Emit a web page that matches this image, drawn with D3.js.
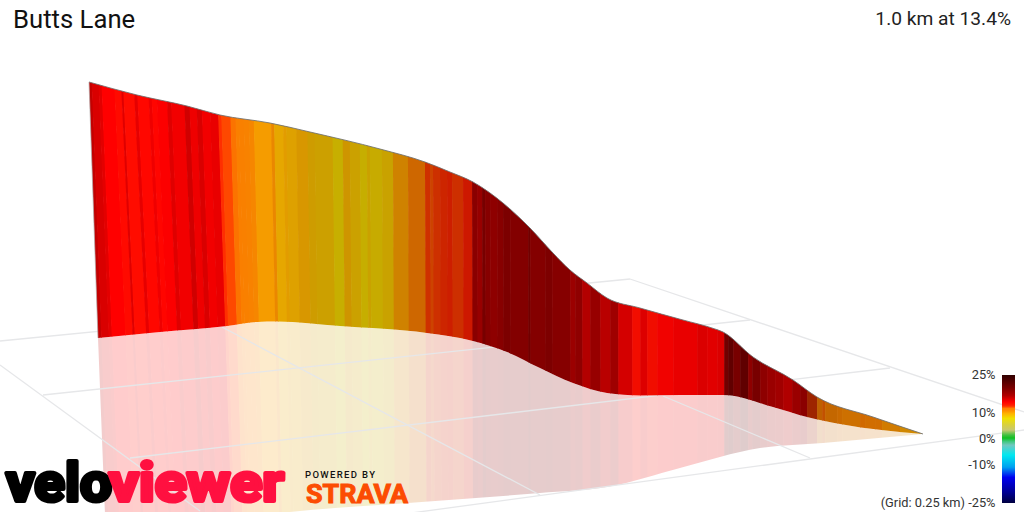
<!DOCTYPE html>
<html>
<head>
<meta charset="utf-8">
<title>Butts Lane</title>
<script src="https://cdn.jsdelivr.net/npm/d3@7"></script>
<style>
html,body{margin:0;padding:0;background:#fff;overflow:hidden}
svg{display:block}
text{font-family:Roboto,sans-serif}
</style>
</head>
<body>
<svg id="c" width="1024" height="512"></svg>
<script>
// Profile as projected on the picture: metres along the view, projected height
const topM    = [0,48,98,131,181,221,291,336,361,384,414,441,464,481,498,518,551,594,623,634,664,704,728,784,834];
const topH    = [430,417,406,397,389,380,363,350,340,330,309,284,259,242,229,214,204,192,184,180,155,132,115,95,78];
const baseM   = [9,71,138,168,188,251,338,384,418,451,484,518,551,591,634,684,718,751,834];
const baseH   = [174,180,186,190,190.5,186,179,171,160,144,129,119,116.5,117,117,105,95,88,78];
const mirrorM = [17,201,319,451,518,591,671,734,834];
const mirrorH = [-28,0,9,19,25,44,64,69,78];

// Gradient strips: where each starts, and its gradient in %
const stripStart = [-5,6,13,16,29,36,38,49,52,63,66,71,81,85,98,103,110,115,123,131,134,143,148,151,156,161,166,183,186,195,198,208,219,226,244,254,261,271,278,281,293,304,319,336,341,344,351,358,363,374,383,388,393,396,401,408,414,421,439,441,456,463,481,486,493,501,511,521,529,543,551,558,568,584,608,618,628,635,639,644,651,659,663,671,678,686,694,703,711,718,728,733,736,748,753,771,776,786,793,811];
const stripGrade = [16.4,15.7,15.4,14.5,14.1,15.5,14.0,15.3,14.2,15.0,14.3,14.6,15.5,14.9,16.0,15.0,15.7,14.9,15.2,12.9,12.5,12.1,11.9,11.8,11.6,11.3,10.4,10.9,9.7,10,9.7,9.9,9.4,9.2,8.4,9.7,9.1,8.4,9.1,8.6,9.0,10.5,12.0,12.7,12.4,12.7,12.9,13.1,12.7,13.3,17.2,16.6,18.5,17.5,17.0,17.5,18.3,17.9,19.3,17.9,18.5,17.9,16.8,17.6,16.2,17.6,16.4,17.5,15.5,13.9,15.2,13.9,14.4,14.75,15.2,15.0,15.2,20,21,19.4,21,18,19.4,18,17.3,16.9,16.4,17.3,18.2,12.7,12,12.2,11.6,11.7,11.3,12,11.7,11.7,10.8,10.3];
const stripEnd = 840;

// Ground grid lines, each from one end to the other
const gridM1 = [-89,541,-46,41,241,-89,133,574];
const gridH1 = [171,233,117,54,-12,147,185,116];
const gridM2 = [541,935,661,801,935,111,451,721];
const gridH2 = [233,100,192,144,82,1,17,54];

// Legend
const legendTicks = [25,10,0,-10,-25];
const legendLabels = ["25%","10%","0%","-10%","(Grid: 0.25 km) -25%"];
const rampGrades = [25,20,17,14.5,13.5,13,12.5,12,11,10,9,8,5.5,3.5,1.5,0.4,-1,-2.4,-6.3,-11,-15,-21,-25];
const rampColors = ["#300000","#7a0000","#b00000","#ff0000","#ff1800","#ff2800","#ff4800","#ff8000","#ff9000","#ffb000","#f8c800","#f0e000","#d8d040","#c8c870","#40c040","#10c020","#40c880","#70c8c0","#00e8f0","#00a0f0","#0000f0","#000090","#000040"];

// Texts
const titleText = "Butts Lane";
const summaryText = "1.0 km at 13.4%";
const logoParts = ["velo","viewer"];
const poweredText = "POWERED BY";
const stravaText = "STRAVA";

const svg = d3.select("#c");
const x = d3.scaleLinear().domain([0,835]).range([89,924]);
const y = d3.scaleLinear().domain([0,512]).range([512,0]);
const color = d3.scaleLinear().domain(rampGrades).range(rampColors).interpolate(d3.interpolateRgb);
// Lighting of the wall along the view
const shade = d3.scaleLinear()
  .domain([0,130,166,190,219,391,481,511,631,641,711,718,728,760,835])
  .range([1,1,.96,.9,.82,.8,.85,.95,.94,.9,.9,.62,.75,.82,.82]).clamp(true);
// Perspective lean of the strips
const lean = d3.scaleLinear().domain([0,50,131,186,300,420,835]).range([.036,.05,.033,.02,.005,.002,0]).clamp(true);

const pts = (a,b)=>a.map((m,i)=>[m,b[i]]);
const smooth = d3.line().x(d=>x(d[0])).y(d=>y(d[1])).curve(d3.curveMonotoneX);
const straight = d3.line().x(d=>x(d[0])).y(d=>y(d[1]));
const band = (upper,lower)=>smooth(upper)+"L"+smooth(lower.slice().reverse()).slice(1)+"Z";
const topLine = pts(topM,topH), baseLine = pts(baseM,baseH), mirrorLine = pts(mirrorM,mirrorH);

const defs = svg.append("defs");
defs.append("clipPath").attr("id","wallClip").append("path").attr("d",band(topLine,baseLine));
defs.append("clipPath").attr("id","mirrorClip").append("path").attr("d",band(baseLine,mirrorLine));

const strips = stripStart.map((s,i)=>({
  s, e: i<stripStart.length-1 ? stripStart[i+1] : stripEnd, g: stripGrade[i]
}));
const refY = 170;
const yTop = 60, yBot = 560;
function edgeX(m,py){return x(m)+lean(m)*(py-refY);}
function stripPath(d){
  const e=d.e+0.6;
  return `M${edgeX(d.s,yTop)},${yTop}L${edgeX(e,yTop)},${yTop}L${edgeX(e,yBot)},${yBot}L${edgeX(d.s,yBot)},${yBot}Z`;
}
function stripFill(d){
  const c=d3.rgb(color(d.g)), k=shade(d.s);
  return d3.rgb(c.r*k,c.g*k,c.b*k).formatHex();
}

// Mirror image on the ground
svg.append("g").attr("clip-path","url(#mirrorClip)").attr("opacity",.2)
  .selectAll("path").data(strips).join("path").attr("d",stripPath).attr("fill",stripFill);

// Ground grid
svg.append("g").selectAll("line").data(gridM1).join("line")
  .attr("x1",(d,i)=>x(gridM1[i])).attr("y1",(d,i)=>y(gridH1[i]))
  .attr("x2",(d,i)=>x(gridM2[i])).attr("y2",(d,i)=>y(gridH2[i]))
  .attr("stroke","#e6e7e9").attr("stroke-width",1.3);

// Wall
svg.append("g").attr("clip-path","url(#wallClip)")
  .selectAll("path").data(strips).join("path").attr("d",stripPath).attr("fill",stripFill);
svg.append("path").attr("d",smooth(topLine)).attr("fill","none").attr("stroke","#6f7070").attr("stroke-width",1).attr("stroke-opacity",.85);
svg.append("path").attr("d",straight([topLine[0],baseLine[0]])).attr("fill","none").attr("stroke","#b0a8a8").attr("stroke-width",.7);

// Titles
svg.append("text").attr("x",13).attr("y",28).attr("font-size",25.7).attr("fill","#111").text(titleText);
svg.append("text").attr("x",1011).attr("y",25).attr("text-anchor","end").attr("font-size",19.2).attr("fill","#222").text(summaryText);

// Legend
const ly = d3.scaleLinear().domain([25,-25]).range([375,503]);
const grad = defs.append("linearGradient").attr("id","ramp").attr("x1",0).attr("x2",0).attr("y1",0).attr("y2",1);
grad.selectAll("stop").data(rampGrades).join("stop")
  .attr("offset",d=>(ly(d)-375)/128).attr("stop-color",(d,i)=>rampColors[i]);
svg.append("rect").attr("x",1002).attr("y",ly(25)).attr("width",13).attr("height",ly(-25)-ly(25)).attr("fill","url(#ramp)");
const ax = svg.append("g").attr("transform","translate(995.5,-0.7)")
  .call(d3.axisLeft(ly).tickValues(legendTicks).tickSize(0).tickPadding(0).tickFormat((d,i)=>legendLabels[i]));
ax.select(".domain").remove();
ax.selectAll("text").attr("font-family","Roboto,sans-serif").attr("font-size",12.8).attr("fill","#333");

// Logos
const logo = svg.append("g");
const logoFont = "'Liberation Sans',sans-serif";
logo.append("text").attr("x",6).attr("y",500.5).attr("font-family",logoFont).attr("font-weight",700)
  .attr("font-size",53).attr("textLength",106).attr("lengthAdjust","spacingAndGlyphs")
  .attr("fill","#000").attr("stroke","#000").attr("stroke-width",4).attr("stroke-linejoin","round").text(logoParts[0]);
logo.append("text").attr("x",109).attr("y",500.5).attr("font-family",logoFont).attr("font-weight",700)
  .attr("font-size",53).attr("textLength",175).attr("lengthAdjust","spacingAndGlyphs")
  .attr("fill","#ff1040").attr("stroke","#ff1040").attr("stroke-width",4).attr("stroke-linejoin","round").text(logoParts[1]);
logo.append("text").attr("x",305).attr("y",478).attr("font-family","Roboto,sans-serif").attr("font-weight",500)
  .attr("font-size",9.5).attr("textLength",70).attr("fill","#111").text(poweredText);
logo.append("text").attr("x",306).attr("y",503).attr("font-family",logoFont).attr("font-weight",700)
  .attr("font-size",26).attr("textLength",102).attr("lengthAdjust","spacingAndGlyphs")
  .attr("fill","#fc4c02").attr("stroke","#fc4c02").attr("stroke-width",1).text(stravaText);
</script>
</body>
</html>
